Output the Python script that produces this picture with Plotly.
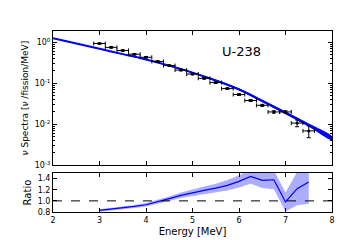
import plotly.graph_objects as go
import numpy as np

# ---- data ----
data_x = [3.0, 3.25, 3.5, 3.75, 4.0, 4.25, 4.5, 4.75, 5.0, 5.25, 5.5, 5.75,
          6.0, 6.25, 6.5, 6.75, 7.0, 7.25, 7.5]
data_y = [0.93, 0.75, 0.63, 0.51, 0.43, 0.34, 0.27, 0.21, 0.168, 0.132, 0.104,
          0.074, 0.053, 0.038, 0.029, 0.020, 0.020, 0.0107, 0.0069]
data_xerr = [0.125] * len(data_x)
data_yerr = [0.035, 0.03, 0.025, 0.02, 0.017, 0.014, 0.011, 0.009, 0.007, 0.006,
             0.005, 0.0035, 0.0025, 0.002, 0.0016, 0.0013, 0.0013, 0.0020, 0.0022]

model_x = [2.0, 2.5, 3.0, 3.5, 4.0, 4.5, 5.0, 5.5, 6.0, 6.5, 7.0, 7.5, 8.0]
model_y = [1.26, 0.933, 0.692, 0.513, 0.380, 0.269, 0.182, 0.117, 0.0708,
           0.0372, 0.0191, 0.00955, 0.00457]
model_frac = [0.02, 0.02, 0.02, 0.025, 0.03, 0.035, 0.04, 0.05, 0.06, 0.07,
              0.08, 0.09, 0.10]

ratio_x = data_x
ratio_y = [0.83, 0.85, 0.87, 0.90, 0.93, 0.98, 1.04, 1.10, 1.15, 1.19, 1.23,
           1.28, 1.35, 1.44, 1.37, 1.38, 0.98, 1.22, 1.34]
ratio_err = [0.02, 0.022, 0.025, 0.028, 0.03, 0.035, 0.04, 0.05, 0.06, 0.07,
             0.08, 0.095, 0.11, 0.13, 0.14, 0.17, 0.17, 0.30, 0.39]

label_text = "U-238"

FONT = "DejaVu Sans"
BLUE = "#0000ff"

fig = go.Figure()

# top panel: model band + line
mu = [y * (1 + f) for y, f in zip(model_y, model_frac)]
ml = [y * (1 - f) for y, f in zip(model_y, model_frac)]
fig.add_trace(go.Scatter(x=model_x + model_x[::-1], y=mu + ml[::-1], fill="toself",
                         fillcolor=BLUE, line=dict(width=0, shape="spline"),
                         mode="lines", hoverinfo="skip", xaxis="x", yaxis="y",
                         showlegend=False))
fig.add_trace(go.Scatter(x=model_x, y=model_y, mode="lines",
                         line=dict(color=BLUE, width=2, shape="spline"),
                         xaxis="x", yaxis="y", showlegend=False))
# data points
fig.add_trace(go.Scatter(x=data_x, y=data_y, mode="markers",
                         marker=dict(color="black", size=3),
                         error_x=dict(type="data", array=data_xerr, color="black",
                                      thickness=1, width=2),
                         error_y=dict(type="data", array=data_yerr, color="black",
                                      thickness=1, width=2),
                         xaxis="x", yaxis="y", showlegend=False))

# bottom panel: ratio band + line
ru = [r + e for r, e in zip(ratio_y, ratio_err)]
rl = [r - e for r, e in zip(ratio_y, ratio_err)]
fig.add_trace(go.Scatter(x=ratio_x + ratio_x[::-1], y=ru + rl[::-1], fill="toself",
                         fillcolor="rgba(0,0,255,0.32)", line=dict(width=0),
                         mode="lines", hoverinfo="skip", xaxis="x2", yaxis="y2",
                         showlegend=False))
fig.add_trace(go.Scatter(x=ratio_x, y=ratio_y, mode="lines",
                         line=dict(color=BLUE, width=1.2), xaxis="x2", yaxis="y2",
                         showlegend=False))
fig.add_trace(go.Scatter(x=[2, 8], y=[1.0, 1.0], mode="lines",
                         line=dict(color="black", width=1, dash="dash"),
                         xaxis="x2", yaxis="y2", showlegend=False))

minor_vals = [m * 10.0 ** d for d in range(-3, 1) for m in range(2, 10)]

axis_common = dict(showline=True, linecolor="black", linewidth=1, mirror="ticks",
                   ticks="inside", tickcolor="black", ticklen=4, showgrid=False,
                   zeroline=False, tickfont=dict(family=FONT, size=8, color="black"))

fig.update_layout(
    width=360, height=240,
    margin=dict(l=45, r=36, t=23, b=31),
    paper_bgcolor="white", plot_bgcolor="white",
    font=dict(family=FONT, color="black"),
    xaxis=dict(domain=[0, 1], range=[2, 8], anchor="y", showticklabels=False,
               dtick=1, **axis_common),
    yaxis=dict(domain=[0.258, 1], type="log", range=[-3, 0.274], anchor="x",
               tickvals=[1e-3, 1e-2, 1e-1, 1],
               ticktext=["10<sup>-3</sup>", "10<sup>-2</sup>", "10<sup>-1</sup>", "10<sup>0</sup>"],
               minor=dict(tickvals=minor_vals, ticks="inside", ticklen=2,
                          tickcolor="black", showgrid=False),
               title=dict(text="<i>ν</i> Spectra [<i>ν</i> /fission/MeV]",
                          font=dict(family=FONT, size=9), standoff=4),
               **axis_common),
    xaxis2=dict(domain=[0, 1], range=[2, 8], anchor="y2", dtick=1,
                title=dict(text="Energy [MeV]", font=dict(family=FONT, size=10),
                           standoff=4),
                **axis_common),
    yaxis2=dict(domain=[0, 0.215], range=[0.8, 1.5], anchor="x2",
                tickvals=[0.8, 1.0, 1.2, 1.4], ticktext=["0.8", "1.0", "1.2", "1.4"],
                title=dict(text="Ratio", font=dict(family=FONT, size=10), standoff=4),
                **axis_common),
    annotations=[dict(text=label_text, x=6.05, y=-0.226,
                      xref="x", yref="y", showarrow=False,
                      font=dict(family=FONT, size=13, color="black"),
                      xanchor="center", yanchor="middle")],
)

fig.write_html("out.html")
